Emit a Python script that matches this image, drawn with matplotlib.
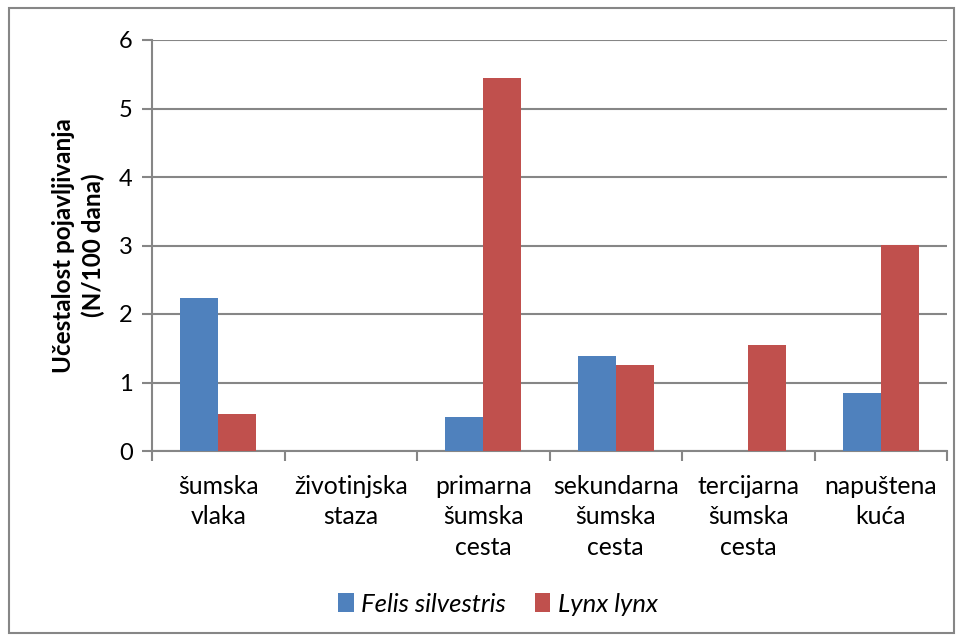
import matplotlib
matplotlib.use("Agg")
import matplotlib.pyplot as plt
import numpy as np
from matplotlib.patches import Rectangle

categories = ["šumska\nvlaka", "životinjska\nstaza", "primarna\nšumska\ncesta",
              "sekundarna\nšumska\ncesta", "tercijarna\nšumska\ncesta", "napuštena\nkuća"]
felis = [2.23, 0, 0.49, 1.38, 0, 0.84]
lynx = [0.54, 0, 5.44, 1.26, 1.55, 3.01]
series_names = ["Felis silvestris", "Lynx lynx"]
yticks = [0, 1, 2, 3, 4, 5, 6]
ylabel = "Učestalost pojavljivanja\n(N/100 dana)"

plt.rcParams['font.family'] = ['Lato', 'DejaVu Sans']
BLUE = "#4F81BD"
RED = "#C0504D"
GRID = "#868686"

W, H = 963, 641
fig = plt.figure(figsize=(W/100, H/100), dpi=100)
ax = fig.add_axes([152/W, 1-451/H, (947-152)/W, (451-40)/H])

x = np.arange(len(categories))
w = 1/3.5
ax.bar(x - w/2, felis, w, color=BLUE, label=series_names[0], zorder=3)
ax.bar(x + w/2, lynx, w, color=RED, label=series_names[1], zorder=3)

ax.set_xlim(-0.5, len(categories)-0.5)
ax.set_ylim(0, 6)
ax.set_yticks(yticks)
ax.yaxis.grid(True, color=GRID, linewidth=1.5, zorder=0)
ax.set_axisbelow(True)

ax.set_xticks(np.arange(-0.5, len(categories), 1.0))
ax.set_xticklabels([])
ax.set_xticks(x, minor=True)
ax.set_xticklabels(categories, minor=True, fontsize=17.8, linespacing=1.4)
ax.tick_params(axis='x', which='minor', length=0, pad=17)
ax.tick_params(axis='x', which='major', length=7, width=1.5, color=GRID, direction='out')
ax.tick_params(axis='y', length=7, width=1.5, color=GRID, direction='out', labelsize=17, pad=7)

for s in ['top', 'right']:
    ax.spines[s].set_visible(False)
for s in ['left', 'bottom']:
    ax.spines[s].set_color(GRID)
    ax.spines[s].set_linewidth(1.5)

ax.set_ylabel(ylabel, fontsize=17.5, fontweight='bold', labelpad=10, linespacing=1.3)

leg = fig.legend(loc='center', bbox_to_anchor=(498/W, 1-604/H), ncol=2, frameon=False,
                 prop={'style': 'italic', 'size': 18.5}, handlelength=0.6, handleheight=0.8,
                 handletextpad=0.3, columnspacing=1.1)

fig.patches.append(Rectangle((9/W, 1-633/H), (954-9)/W, (633-8)/H, transform=fig.transFigure,
                             fill=False, edgecolor=GRID, linewidth=1.5))

fig.savefig("out.png", dpi=100)
